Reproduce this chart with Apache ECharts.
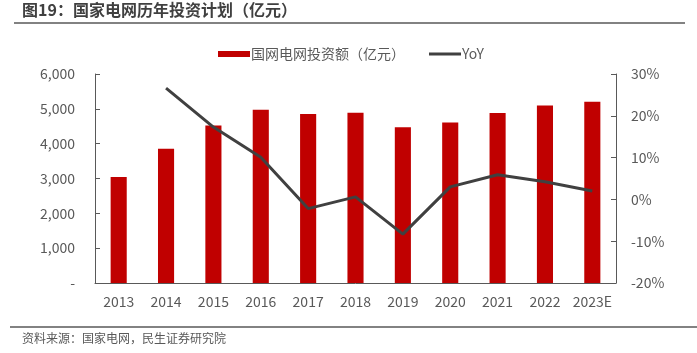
<!DOCTYPE html>
<html>
<head>
<meta charset="utf-8">
<script src="https://cdn.jsdelivr.net/npm/echarts@6/dist/echarts.min.js"></script>
<style>
  html, body { margin: 0; padding: 0; background: #fff; }
  #main { width: 697px; height: 353px; }
</style>
</head>
<body>
<div id="main"></div>
<script>
var years = ['2013', '2014', '2015', '2016', '2017', '2018', '2019', '2020', '2021', '2022', '2023E'];
var invest = [3046, 3855, 4521, 4977, 4854, 4889, 4473, 4605, 4882, 5094, 5200];
var yoy = [null, 26.6, 17.3, 10.1, -2.2, 0.6, -8.3, 3.0, 5.9, 4.2, 2.0];
var leftTicks = [0, 6000, 1000];
var rightTicks = [-20, 30, 10];

var font = '"Noto Sans CJK SC", "Microsoft YaHei", sans-serif';
var axisColor = '#595959';
var textColor = '#595959';

var option = {
    animation: false,
    textStyle: { fontFamily: font },
    grid: { left: 95, right: 81, top: 74, bottom: 70 },
    legend: {
        top: 42,
        left: 213,
        itemWidth: 32,
        itemHeight: 6,
        itemGap: 24,
        textStyle: { color: textColor, fontSize: 14, fontFamily: font, padding: [0, 0, 0, -4] },
        data: [
            { name: '国网电网投资额（亿元）', icon: 'rect' },
            { name: 'YoY', icon: 'path://M0,0 L32,0 L32,3 L0,3 Z' }
        ]
    },
    xAxis: {
        type: 'category',
        data: years,
        axisLine: { lineStyle: { color: axisColor, width: 1 } },
        axisTick: { show: false },
        axisLabel: { color: textColor, fontSize: 14, margin: 12, interval: 0, fontFamily: font }
    },
    yAxis: [{
        type: 'value',
        min: leftTicks[0], max: leftTicks[1], interval: leftTicks[2],
        axisLine: { show: true, lineStyle: { color: axisColor } },
        axisTick: { show: true, inside: true, length: 5, lineStyle: { color: axisColor } },
        splitLine: { show: false },
        axisLabel: {
            color: textColor, fontSize: 14, margin: 20, fontFamily: font,
            formatter: function (v) { return v === 0 ? '-' : v.toLocaleString('en-US'); }
        }
    }, {
        type: 'value',
        min: rightTicks[0], max: rightTicks[1], interval: rightTicks[2],
        axisLine: { show: true, lineStyle: { color: axisColor } },
        axisTick: { show: true, inside: true, length: 5, lineStyle: { color: axisColor } },
        splitLine: { show: false },
        axisLabel: { color: textColor, fontSize: 14, margin: 15, fontFamily: font, formatter: '{value}%' }
    }],
    series: [{
        name: '国网电网投资额（亿元）',
        type: 'bar',
        data: invest,
        barWidth: '34%',
        itemStyle: { color: '#C00000' }
    }, {
        name: 'YoY',
        type: 'line',
        yAxisIndex: 1,
        data: yoy,
        symbol: 'none',
        lineStyle: { color: '#404040', width: 3 },
        itemStyle: { color: '#404040' }
    }],
    graphic: [
        {
            type: 'text', left: 22, top: 2,
            style: { text: '图19：国家电网历年投资计划（亿元）', fill: '#404040', font: 'bold 16px ' + font }
        },
        {
            type: 'line', shape: { x1: 14, y1: 23, x2: 685, y2: 23 },
            style: { stroke: '#595959', lineWidth: 1.5 }
        },
        {
            type: 'line', shape: { x1: 10, y1: 327, x2: 697, y2: 327 },
            style: { stroke: '#595959', lineWidth: 1.5 }
        },
        {
            type: 'text', left: 22, top: 332,
            style: { text: '资料来源：国家电网，民生证券研究院', fill: '#595959', font: '12px ' + font }
        }
    ]
};

var myChart = echarts.init(document.getElementById('main'));
myChart.setOption(option);
</script>
</body>
</html>
